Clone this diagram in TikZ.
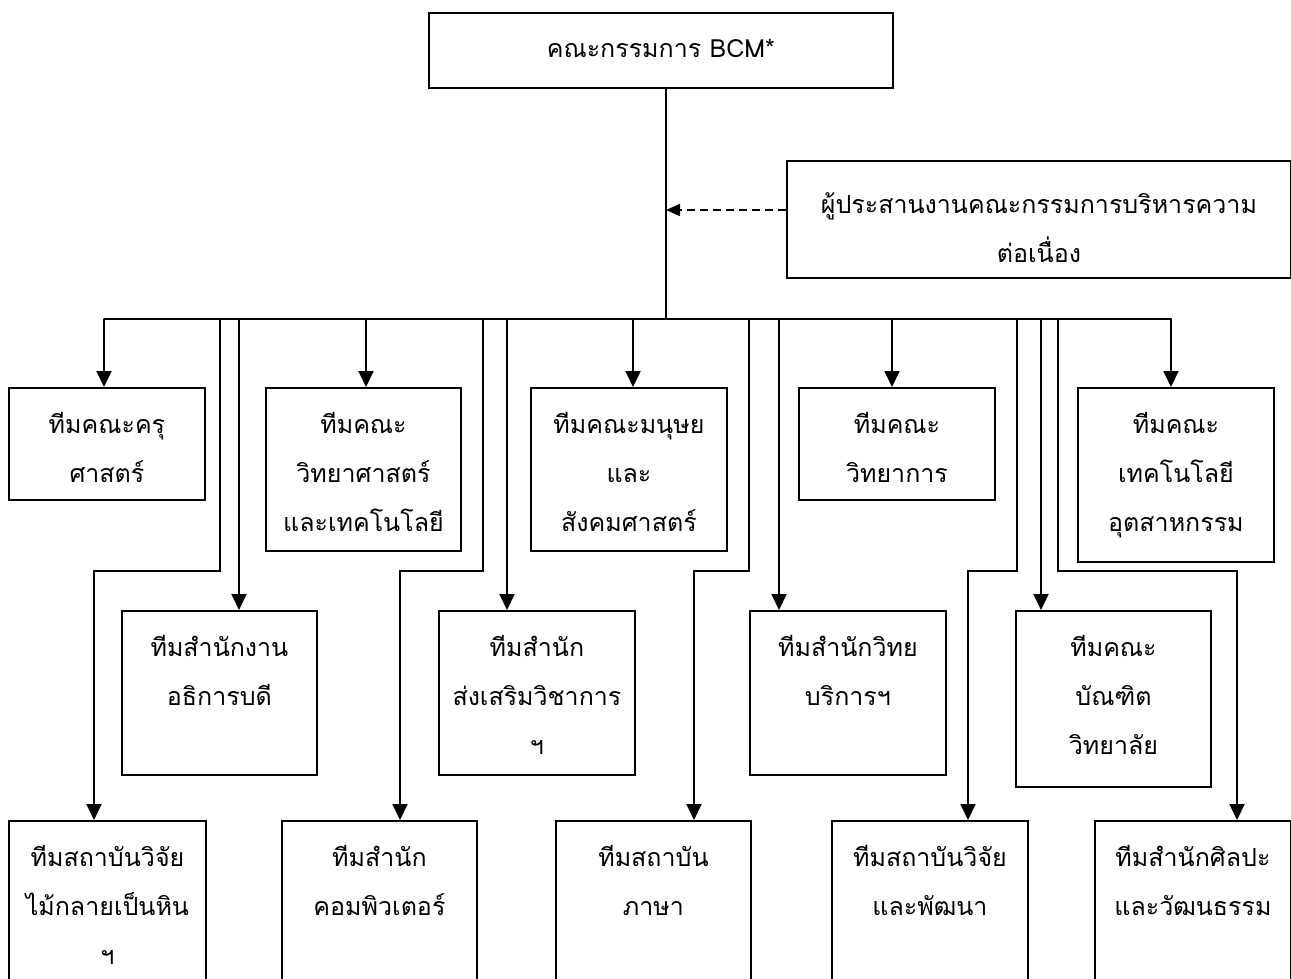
\documentclass[tikz,border=0pt]{standalone}
\usepackage{fontspec}
\setmainfont[Script=Thai]{Loma}
\usetikzlibrary{arrows.meta}
\begin{document}
\begin{tikzpicture}[x=1pt,y=-1pt,
  box/.style={draw,line width=1.9pt,rectangle,anchor=north west,inner sep=0pt},
  lbl/.style={anchor=base,align=center,inner sep=0pt,font=\fontsize{25}{49}\selectfont},
  arr/.style={line width=1.9pt,-{Triangle[length=16pt,width=15pt]}},
  ln/.style={line width=1.9pt},
  dasharr/.style={line width=1.6pt,dash pattern=on 8pt off 5pt,-{Triangle[length=14pt,width=12pt]}}]
\useasboundingbox (0,0) rectangle (1291,978);
\clip (0,0) rectangle (1291,978);
% boxes: name, x1,y1,x2,y2
\newcommand{\mybox}[5]{\node[box,minimum width={#4-#2},minimum height={#5-#3}] (#1) at (#2,#3) {};}
\mybox{b0}{428}{12}{892}{87}
\mybox{c}{786}{160}{1290}{277}
\mybox{b1}{8}{387}{204}{499}
\mybox{b2}{265}{387}{460}{550}
\mybox{b3}{530}{387}{726}{550}
\mybox{b4}{798}{387}{994}{499}
\mybox{b5}{1077}{387}{1273}{561}
\mybox{b6}{121}{610}{316}{774}
\mybox{b7}{438}{610}{634}{774}
\mybox{b8}{749}{610}{945}{774}
\mybox{b9}{1015}{610}{1210}{786}
\mybox{b10}{8}{820}{205}{1010}
\mybox{b11}{281}{820}{476}{1010}
\mybox{b12}{555}{820}{750}{1010}
\mybox{b13}{831}{820}{1027}{1010}
\mybox{b14}{1094}{820}{1290}{1010}
% texts (anchor=base is the last line's baseline)
\node[lbl] (t0) at ([yshift=-45pt]b0.north) {คณะกรรมการ BCM*};
\node[lbl] (tc) at ([yshift=-102pt]c.north) {ผู้ประสานงานคณะกรรมการบริหารความ\\ต่อเนื่อง};
\node[lbl] (t1) at ([yshift=-95pt]b1.north) {ทีมคณะครุ\\ศาสตร์};
\node[lbl] (t2) at ([yshift=-144pt]b2.north) {ทีมคณะ\\วิทยาศาสตร์\\และเทคโนโลยี};
\node[lbl] (t3) at ([yshift=-144pt]b3.north) {ทีมคณะมนุษย\\และ\\สังคมศาสตร์};
\node[lbl] (t4) at ([yshift=-95pt]b4.north) {ทีมคณะ\\วิทยาการ};
\node[lbl] (t5) at ([yshift=-144pt]b5.north) {ทีมคณะ\\เทคโนโลยี\\อุตสาหกรรม};
\node[lbl] (t6) at ([yshift=-95pt]b6.north) {ทีมสำนักงาน\\อธิการบดี};
\node[lbl] (t7) at ([yshift=-144pt]b7.north) {ทีมสำนัก\\ส่งเสริมวิชาการ\\ฯ};
\node[lbl] (t8) at ([yshift=-95pt]b8.north) {ทีมสำนักวิทย\\บริการฯ};
\node[lbl] (t9) at ([yshift=-144pt]b9.north) {ทีมคณะ\\บัณฑิต\\วิทยาลัย};
\node[lbl] (t10) at ([yshift=-144pt]b10.north) {ทีมสถาบันวิจัย\\ไม้กลายเป็นหิน\\ฯ};
\node[lbl] (t11) at ([yshift=-95pt]b11.north) {ทีมสำนัก\\คอมพิวเตอร์};
\node[lbl] (t12) at ([yshift=-95pt]b12.north) {ทีมสถาบัน\\ภาษา};
\node[lbl] (t13) at ([yshift=-95pt]b13.north) {ทีมสถาบันวิจัย\\และพัฒนา};
\node[lbl] (t14) at ([yshift=-95pt]b14.north) {ทีมสำนักศิลปะ\\และวัฒนธรรม};
% trunk and bus
\coordinate (hub) at (666,319);
\coordinate (busL) at (104,319);
\coordinate (busR) at (1171,319);
\draw[ln] (b0.south -| hub) -- (hub);
\draw[ln,line cap=round] (busL) -- (busR);
\draw[dasharr] (c.west |- 0,210) -- (hub |- 0,210);
% row 1
\foreach \n/\x in {b1/104,b2/366,b3/633,b4/892,b5/1171}
  \draw[arr] (\x,319) -- (\n.north -| \x,0);
% row 2
\foreach \n/\x in {b6/239,b7/507,b8/779,b9/1041}
  \draw[arr] (\x,319) -- (\n.north -| \x,0);
% row 3
\foreach \n/\xa/\xb in {b10/220/94,b11/483/400,b12/749/694,b13/1017/968,b14/1058/1237}
  \draw[arr] (\xa,319) -- (\xa,571) -- (\xb,571) -- (\n.north -| \xb,0);
\end{tikzpicture}
\end{document}
